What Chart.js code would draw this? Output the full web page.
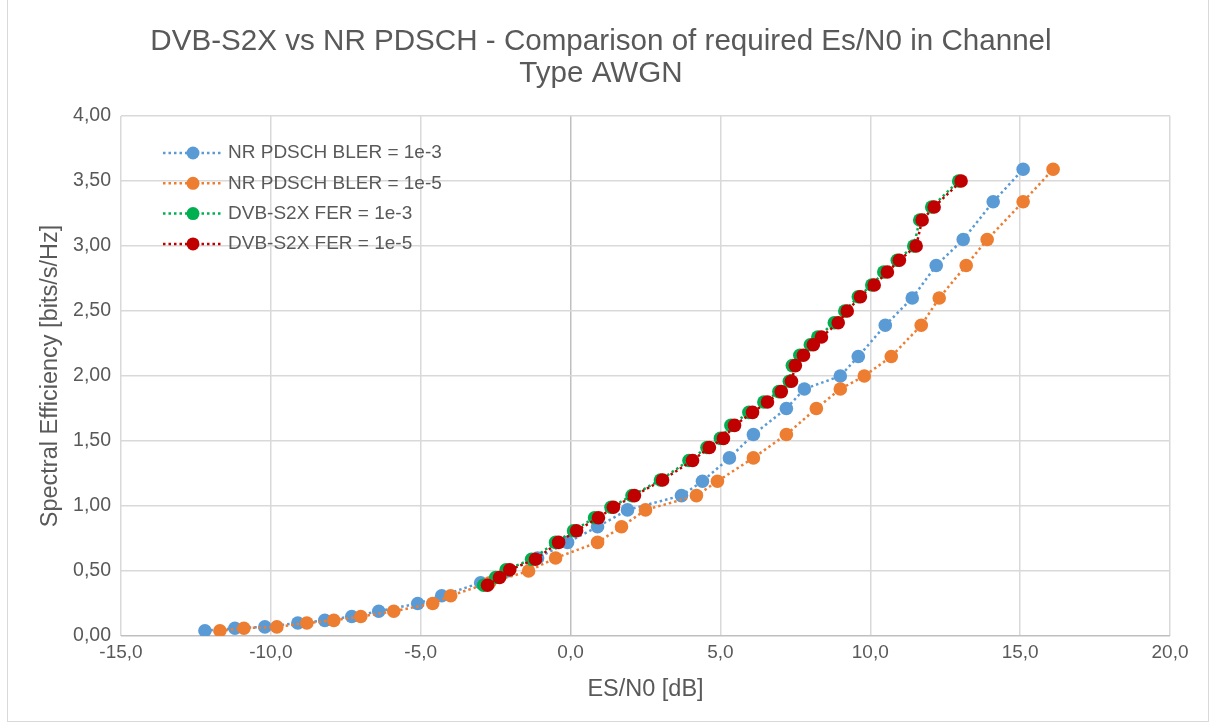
<!DOCTYPE html>
<html>
<head>
<meta charset="utf-8">
<script src="https://cdn.jsdelivr.net/npm/chart.js@4.4.1/dist/chart.umd.min.js"></script>
<style>
  html, body { margin: 0; padding: 0; background: #fff; }
  #wrap { position: relative; width: 1211px; height: 727px; overflow: hidden; }
  #wrap canvas { position: absolute; left: 0; top: 0; }
  #frame { position: absolute; left: 7px; top: -2px; width: 1200px; height: 722px; border: 1px solid #d9d9d9; pointer-events: none; }
</style>
</head>
<body>
<div id="wrap">
  <canvas id="chart" width="1211" height="727"></canvas>
  <div id="frame"></div>
</div>
<script>
// Spectral efficiency per NR MCS (shared by both NR curves)
const nrSpectralEff = [0.04, 0.06, 0.07, 0.10, 0.12, 0.15, 0.19, 0.25, 0.31, 0.41,
  0.50, 0.60, 0.72, 0.84, 0.97, 1.08, 1.19, 1.37, 1.55, 1.75,
  1.90, 2.00, 2.15, 2.39, 2.60, 2.85, 3.05, 3.34, 3.59];
// required Es/N0 [dB]
const nrBler1e3 = [-12.2, -11.2, -10.2, -9.1, -8.2, -7.3, -6.4, -5.1, -4.3, -3.0,
  -2.1, -1.1, -0.1, 0.9, 1.9, 3.7, 4.4, 5.3, 6.1, 7.2,
  7.8, 9.0, 9.6, 10.5, 11.4, 12.2, 13.1, 14.1, 15.1];
const nrBler1e5 = [-11.7, -10.9, -9.8, -8.8, -7.9, -7.0, -5.9, -4.6, -4.0, -2.7,
  -1.4, -0.5, 0.9, 1.7, 2.5, 4.2, 4.9, 6.1, 7.2, 8.2,
  9.0, 9.8, 10.7, 11.7, 12.3, 13.2, 13.9, 15.1, 16.1];

// Spectral efficiency per DVB-S2X MODCOD
const dvbSpectralEff = [0.39, 0.45, 0.51, 0.59, 0.72, 0.81, 0.91, 0.99, 1.08, 1.20,
  1.35, 1.45, 1.52, 1.62, 1.72, 1.80, 1.88, 1.96, 2.08, 2.16,
  2.24, 2.30, 2.41, 2.50, 2.61, 2.70, 2.80, 2.89, 3.00, 3.20,
  3.30, 3.50];
const dvbFer1e3 = [-2.9, -2.5, -2.15, -1.3, -0.5, 0.1, 0.8, 1.35, 2.05, 3.0,
  3.95, 4.55, 5.0, 5.35, 5.95, 6.45, 6.95, 7.3, 7.4, 7.65,
  8.0, 8.25, 8.8, 9.15, 9.6, 10.05, 10.45, 10.9, 11.45, 11.65,
  12.05, 12.95];
const dvbFer1e5 = [-2.77, -2.37, -2.03, -1.17, -0.4, 0.2, 0.93, 1.43, 2.13, 3.07,
  4.07, 4.63, 5.1, 5.47, 6.07, 6.57, 7.03, 7.37, 7.5, 7.77,
  8.1, 8.37, 8.93, 9.23, 9.67, 10.13, 10.57, 10.97, 11.53, 11.73,
  12.13, 13.03];

const seriesLabels = ['NR PDSCH BLER = 1e-3', 'NR PDSCH BLER = 1e-5', 'DVB-S2X FER = 1e-3', 'DVB-S2X FER = 1e-5'];
const seriesColors = ['#5B9BD5', '#ED7D31', '#00B050', '#C00000'];
const titleLines = ['DVB-S2X vs NR PDSCH - Comparison of required Es/N0 in Channel', 'Type AWGN'];

const FONT = '"Liberation Sans", Arial, sans-serif';
const TEXT = '#595959';
const GRID = '#d9d9d9';

const pairs = (xs, ys) => xs.map((x, i) => ({ x, y: ys[i] }));
const seriesData = [
  pairs(nrBler1e3, nrSpectralEff),
  pairs(nrBler1e5, nrSpectralEff),
  pairs(dvbFer1e3, dvbSpectralEff),
  pairs(dvbFer1e5, dvbSpectralEff),
];

// legend drawn inside the plot area, line + marker like Excel
const insideLegend = {
  id: 'insideLegend',
  afterDatasetsDraw(chart) {
    const { ctx, chartArea } = chart;
    const x0 = chartArea.left + 42;
    const y0 = chartArea.top + 37;
    ctx.save();
    chart.data.datasets.forEach((ds, i) => {
      const y = y0 + i * 30.3;
      ctx.strokeStyle = ds.borderColor;
      ctx.lineWidth = 2.5;
      ctx.setLineDash([2.5, 3]);
      ctx.beginPath();
      ctx.moveTo(x0, y);
      ctx.lineTo(x0 + 60, y);
      ctx.stroke();
      ctx.setLineDash([]);
      ctx.fillStyle = ds.borderColor;
      ctx.beginPath();
      ctx.arc(x0 + 30, y, 6.5, 0, Math.PI * 2);
      ctx.fill();
      ctx.fillStyle = TEXT;
      ctx.font = '19px ' + FONT;
      ctx.textBaseline = 'middle';
      ctx.textAlign = 'left';
      ctx.fillText(ds.label, x0 + 65, y);
    });
    ctx.restore();
  },
};

const gridColor = c => (c.tick && c.tick.value === 0 ? '#bfbfbf' : GRID);

new Chart(document.getElementById('chart'), {
  type: 'scatter',
  data: {
    datasets: seriesData.map((d, i) => ({
      label: seriesLabels[i],
      data: d,
      showLine: true,
      borderColor: seriesColors[i],
      backgroundColor: seriesColors[i],
      borderWidth: 2.5,
      borderDash: [2.5, 3],
      pointRadius: 6.8,
      pointHoverRadius: 6.8,
      pointBorderWidth: 0,
      pointBackgroundColor: seriesColors[i],
      order: 4 - i, // later series drawn on top, as in Excel
    })),
  },
  options: {
    responsive: false,
    animation: false,
    events: [],
    layout: { padding: { left: 32, right: 41, top: 0, bottom: 0 } },
    plugins: {
      legend: { display: false },
      tooltip: { enabled: false },
      title: {
        display: true,
        text: titleLines,
        color: TEXT,
        font: { family: FONT, size: 29.6, weight: 'normal', lineHeight: 32 / 29.6 },
        padding: { top: 26, bottom: 26 },
      },
    },
    scales: {
      x: {
        type: 'linear',
        min: -15,
        max: 20,
        afterFit: s => { s.height = 91; },
        grid: { color: gridColor, lineWidth: 1.5, drawTicks: false },
        border: { display: false },
        ticks: {
          stepSize: 5,
          padding: 5,
          color: TEXT,
          font: { family: FONT, size: 19 },
          callback: v => v.toFixed(1).replace('.', ','),
        },
        title: {
          display: true,
          text: 'ES/N0 [dB]',
          color: TEXT,
          font: { family: FONT, size: 23.5, lineHeight: 1.2 },
          padding: { top: 0, bottom: 23 },
        },
      },
      y: {
        type: 'linear',
        min: 0,
        max: 4,
        afterFit: s => { s.width = 89; },
        grid: { color: gridColor, lineWidth: 1.5, drawTicks: false },
        border: { display: false },
        ticks: {
          stepSize: 0.5,
          padding: 10,
          color: TEXT,
          font: { family: FONT, size: 19.5 },
          callback: v => v.toFixed(2).replace('.', ','),
        },
        title: {
          display: true,
          text: 'Spectral Efficiency [bits/s/Hz]',
          color: TEXT,
          font: { family: FONT, size: 23.5, lineHeight: 1.2 },
          padding: { top: 4, bottom: 0 },
        },
      },
    },
  },
  plugins: [insideLegend],
});
</script>
</body>
</html>
